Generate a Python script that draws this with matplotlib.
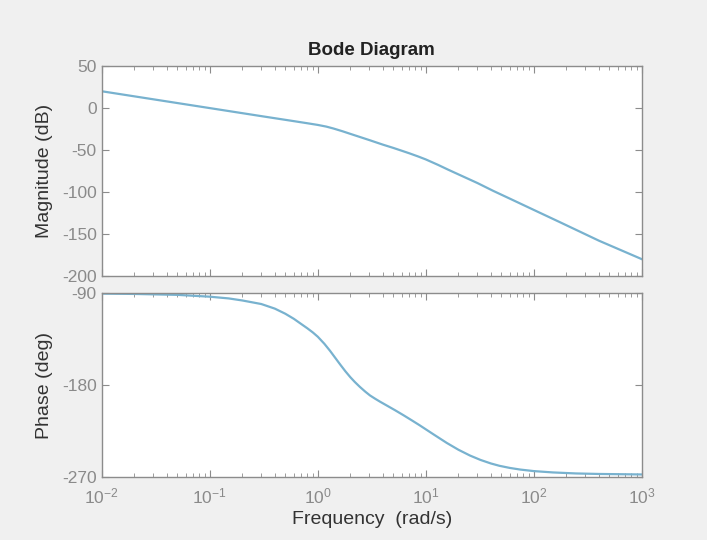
import matplotlib
matplotlib.use("Agg")
import matplotlib.pyplot as plt
from matplotlib.ticker import LogLocator, LogFormatterSciNotation, NullFormatter, FixedLocator

plt.rcParams['font.family'] = ['Liberation Sans', 'DejaVu Sans']
plt.rcParams['mathtext.fontset'] = 'custom'
plt.rcParams['mathtext.rm'] = 'Liberation Sans'
plt.rcParams['mathtext.it'] = 'Liberation Sans'
plt.rcParams['axes.unicode_minus'] = False

# ---- data ----
freq_mag = [0.01, 0.0316, 0.1, 0.316, 0.6, 0.8, 1.0, 1.2, 1.4, 1.7, 2.0, 2.45, 3.0, 3.5,
            4.0, 5.0, 6.0, 7.0, 8.5, 10, 13, 16, 20, 30, 42, 60, 100, 174, 400, 1000]
mag_db = [20, 10, 0, -10, -15.5, -18, -20, -22, -24.3, -27.6, -30.6, -34.3, -38, -40.9,
          -43.4, -47.3, -50.7, -53.6, -57.5, -61, -67.5, -73, -78.7, -89, -98.3, -107.6,
          -121, -135.5, -157.5, -179.5]

freq_ph = [0.01, 0.02, 0.05, 0.1, 0.15, 0.2, 0.3, 0.4, 0.5, 0.6, 0.7, 0.8, 0.9, 1.0,
           1.15, 1.3, 1.45, 1.61, 1.8, 2.0, 2.2, 2.45, 2.75, 3.04, 3.4, 3.76, 4.5, 5.2,
           6.2, 7.5, 8.7, 10, 12, 15.6, 20, 25.6, 32, 40, 48, 60, 75, 100, 150, 245,
           400, 1000]
phase_deg = [-90.3, -90.6, -91.5, -93.3, -95, -97, -100.5, -105, -110, -115, -120,
             -124.3, -128.4, -132.6, -139.5, -146.5, -153.3, -159.8, -166.5, -172.3,
             -177, -181.8, -186.5, -190.2, -193.5, -196.3, -201, -204.8, -209.6, -215,
             -219.3, -223.5, -229, -236.8, -243.5, -249.2, -253.5, -257, -259.3, -261.4,
             -263, -264.5, -265.8, -266.8, -267.3, -267.8]

mag_ticks = [50, 0, -50, -100, -150, -200]
phase_ticks = [-90, -180, -270]

line_color = '#78b2cf'
spine_color = '#8c8c8c'
tick_text = '#8a8a8a'
label_color = '#333333'

fig = plt.figure(figsize=(7.07, 5.40), dpi=100, facecolor='#f0f0f0')
ax1 = fig.add_axes([0.1438, 0.488, 0.7642, 0.3898])
ax2 = fig.add_axes([0.1438, 0.1172, 0.7642, 0.3396])

ax1.plot(freq_mag, mag_db, color=line_color, lw=1.6)
ax2.plot(freq_ph, phase_deg, color=line_color, lw=1.6)

for ax in (ax1, ax2):
    ax.set_facecolor('white')
    ax.set_xscale('log')
    ax.set_xlim(1e-2, 1e3)
    for s in ax.spines.values():
        s.set_color(spine_color)
        s.set_linewidth(1.0)
    ax.xaxis.set_major_locator(LogLocator(base=10, numticks=10))
    ax.xaxis.set_minor_locator(LogLocator(base=10, subs=range(2, 10), numticks=100))
    ax.xaxis.set_minor_formatter(NullFormatter())
    ax.tick_params(which='both', direction='in', top=True, right=True,
                   color=spine_color, labelcolor=tick_text, labelsize=12.5)
    ax.tick_params(which='major', length=5, width=0.8)
    ax.tick_params(which='minor', length=3, width=0.6)

ax1.set_ylim(-200, 50)
ax1.yaxis.set_major_locator(FixedLocator(mag_ticks))
ax1.tick_params(axis='x', which='both', labelbottom=False)
ax2.set_ylim(-270, -90)
ax2.yaxis.set_major_locator(FixedLocator(phase_ticks))
ax2.xaxis.set_major_formatter(LogFormatterSciNotation())
ax2.tick_params(axis='x', pad=7)

ax1.set_ylabel('Magnitude (dB)', fontsize=14, color=label_color)
ax2.set_ylabel('Phase (deg)', fontsize=14, color=label_color)
ax1.yaxis.set_label_coords(-0.09, 0.5)
ax2.yaxis.set_label_coords(-0.09, 0.5)
ax2.set_xlabel('Frequency  (rad/s)', fontsize=14, color=label_color, labelpad=3)
ax1.set_title('Bode Diagram', fontsize=13.5, fontweight='bold', color='#222222', pad=8)

fig.savefig('out.png', dpi=100, facecolor=fig.get_facecolor())
